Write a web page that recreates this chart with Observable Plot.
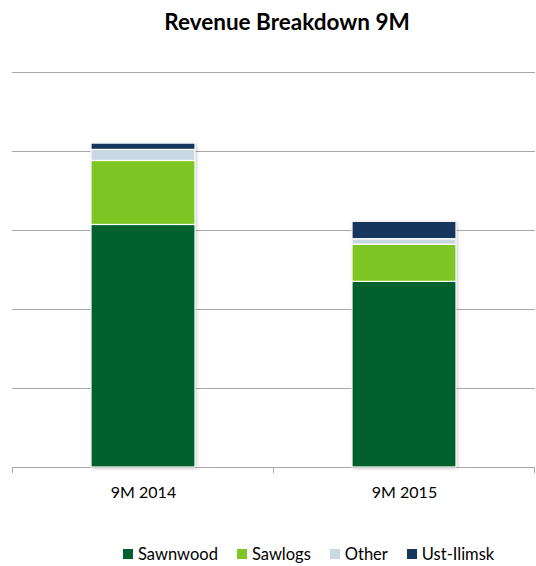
<!DOCTYPE html>
<html><head><meta charset="utf-8">
<script src="https://cdn.jsdelivr.net/npm/d3@7"></script>
<script src="https://cdn.jsdelivr.net/npm/@observablehq/plot@0.6"></script>
<style>
body{margin:0;width:536px;height:566px;overflow:hidden;position:relative;background:#fff;font-family:Lato,sans-serif}
#title{position:absolute;top:8px;left:38px;width:498px;text-align:center;font-weight:bold;font-size:22.5px;line-height:28px;color:#000}
#chart{position:absolute;top:45px;left:0}
#legend{position:absolute;top:544px;left:123px;display:flex;align-items:center;font-size:16.5px;line-height:20px;color:#000;white-space:nowrap}
.item{display:flex;align-items:center;margin-right:19px}
.sw{width:10px;height:10px;margin-right:5px}
</style></head>
<body>
<div id="title">Revenue Breakdown 9M</div>
<div id="chart"></div>
<div id="legend"></div>
<script>
const periods = ["9M 2014", "9M 2015"];
const series = ["Sawnwood", "Sawlogs", "Other", "Ust-Ilimsk"];
const colors = ["#01612e", "#7dc623", "#c9d9e3", "#17365d"];
const sawnwood = [307, 235];
const sawlogs = [81, 47];
const other = [14, 7];
const ustIlimsk = [8, 22];
const yTicks = [0, 100, 200, 300, 400, 500];

const valuesBySeries = [sawnwood, sawlogs, other, ustIlimsk];
const table = [];
series.forEach((s, i) => periods.forEach((p, j) => table.push({period: p, series: s, value: valuesBySeries[i][j]})));

const chart = Plot.plot({
  width: 536,
  height: 482,
  marginTop: 27,
  marginBottom: 60,
  marginLeft: 12,
  marginRight: 1,
  style: {fontFamily: "Lato, sans-serif", fontSize: "16px", color: "#000", background: "transparent"},
  x: {domain: periods, paddingInner: 0.6, paddingOuter: 0.3, label: null},
  y: {domain: [0, 500], axis: null},
  color: {domain: series, range: colors},
  marks: [
    Plot.ruleY(yTicks, {stroke: "#a8a8a8", strokeWidth: 1}),
    Plot.barY(table, {x: "period", y: "value", fill: "series", order: series, stroke: "white", strokeWidth: 1.2}),
    Plot.axisX({tickSize: 0, tickPadding: 19, fontSize: 16, fill: "#000"})
  ]
});
document.getElementById("chart").appendChild(chart);

// subtle shadow on bars
d3.select(chart).selectAll("g[aria-label='bar']").style("filter", "drop-shadow(1px 1px 1.5px rgba(0,0,0,0.22))");

// category boundary ticks below baseline
const sx = chart.scale("x");
const sy = chart.scale("y");
const gap = (sx.step - sx.bandwidth) / 2;
const bounds = periods.map(p => sx.apply(p) - gap);
bounds.push(sx.apply(periods[periods.length - 1]) + sx.bandwidth + gap);
const y0 = sy.apply(0);
d3.select(chart).append("g").selectAll("line").data(bounds).join("line")
  .attr("x1", d => d).attr("x2", d => d)
  .attr("y1", y0).attr("y2", y0 + 6)
  .attr("stroke", "#a8a8a8").attr("stroke-width", 1);

// legend
const lg = d3.select("#legend");
series.forEach((s, i) => {
  const it = lg.append("div").attr("class", "item");
  it.append("div").attr("class", "sw").style("background", colors[i]);
  it.append("span").text(s);
});
</script>
</body></html>
